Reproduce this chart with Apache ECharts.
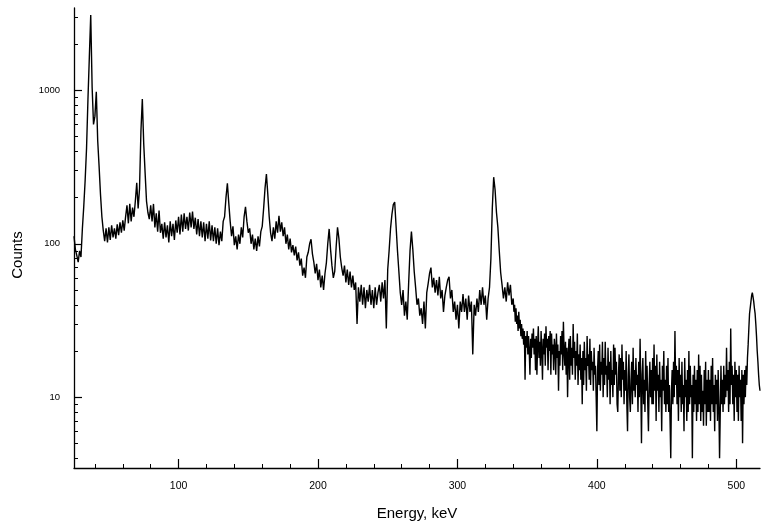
<!DOCTYPE html>
<html>
<head>
<meta charset="utf-8">
<script src="https://cdn.jsdelivr.net/npm/echarts@6/dist/echarts.min.js"></script>
<style>
html,body{margin:0;padding:0;background:#fff;}
#chart{width:761px;height:526px;}
</style>
</head>
<body>
<div id="chart"></div>
<script>
// Low-energy part: counts per 1 keV channel, 25 .. 339 keV
const lowStart = 25, lowStep = 1;
const counts25 = [112,92,84,76,90,82,125,175,260,420,870,1650,3100,1050,600,680,980,470,320,210,150,122,104,126,102,128,106,132,110,126,108,134,114,138,118,142,122,150,178,136,182,140,172,150,190,250,170,230,540,880];
const counts75 = [450,290,190,160,145,178,140,182,128,158,120,165,118,135,108,138,110,132,102,140,112,135,106,142,118,150,115,155,120,158,125,150,122,160,128,162,125,148,115,145,112,140,110,138,104,135,108,140,105,132];
const counts125 = [104,128,100,126,98,120,104,140,150,200,248,185,140,112,130,98,112,92,115,100,128,110,150,174,140,118,126,100,115,92,108,90,112,96,120,130,170,230,285,210,150,118,104,128,108,140,118,152,120,138];
const counts175 = [112,128,100,115,92,108,88,98,84,96,78,88,72,80,62,70,60,82,88,100,107,86,76,64,74,58,68,52,62,50,64,75,100,125,92,72,60,66,95,128,108,82,70,62,72,56,68,54,66,52];
const counts225 = [62,50,56,30,52,42,54,40,52,38,50,42,54,40,50,38,52,40,48,54,42,56,44,58,28,68,90,125,155,180,187,130,90,66,48,40,50,34,42,32,55,90,120,92,66,52,40,44,34,38];
const counts275 = [30,42,28,48,55,64,70,52,60,48,58,46,61,44,50,36,46,52,58,61,44,50,36,42,32,40,28,42,36,47,36,44,32,46,36,42,19,40,34,44,36,50,40,52,40,46,32,44,52,80];
const counts325 = [170,272,225,160,128,90,65,54,44,52,42,56,46,54,40];

// High-energy part: counts per 0.5 keV channel, 340 .. 517 keV
const highStart = 340, highStep = 0.5;
const counts340 = [44,36,40,31,38,30,34,27,36,28,32,25,30,24,28,22,27,13,25,21];
const counts350 = [27,19,25,20,14,24,18,26,21,28,19,24,15,25,14,22,29,18,23,16];
const counts360 = [27,20,13,24,19,26,16,29,21,24,15,25,20,27,14,26,19,22,15,24];
const counts370 = [21,14,26,18,22,11,20,16,25,19,27,15,31,20,16,23,14,21,10,19];
const counts380 = [24,13,25,16,21,14,30,18,23,13,20,16,26,12,19,15,22,13,18,9];
const counts390 = [20,12,23,15,18,11,25,16,19,13,24,12,20,15,17,11,21,14,16,10];
const counts400 = [6,15,20,12,22,11,17,14,23,10,18,12,23,14,16,10,21,13,17,9];
const counts410 = [20,12,15,10,22,12,21,14,17,9,8,14,19,11,18,10,22,13,17,9];
const counts420 = [15,11,20,9,6,14,19,10,8,13,17,9,21,11,15,10,18,12,14,8];
const counts430 = [17,10,24,12,5,14,18,9,13,8,20,11,16,9,6,12,17,10,15,9];
const counts440 = [18,9,22,11,16,7,19,11,14,8,17,10,13,6,16,11,20,9,13,8];
const counts450 = [16,9,18,8,12,7,4,11,15,9,17,10,27,12,16,9,15,7,18,10];
const counts460 = [14,8,17,9,12,6,18,10,13,7,15,8,20,9,16,10,12,4,14,8];
const counts470 = [16,9,13,7,15,8,19,9,16,7,14,8,11,6.5,15,9,17,6.5,13,8];
const counts480 = [15,8,13,7,16,9,18,8,12,6,14,9,13,7,15,9,4,8,16,9];
const counts490 = [13,8,16,9,14,10,21,11,15,8,17,9,28,12,16,9,14,7,17,10];
const counts500 = [15,8,14,7,16,10,13,7,15,5,14,9,15,10,16,12,18,22,28,35];
const counts510 = [36,42,46,48,45,42,38,35,30,25,20,17,14,12,11];

const xMajorTicks = [100,200,300,400,500];
const xMinorTicks = [40,60,80,120,140,160,180,220,240,260,280,320,340,360,380,420,440,460,480];
const yMajorTicks = [10,100,1000];
const yMinorTicks = [4,5,6,7,8,9,20,30,40,50,60,70,80,90,200,300,400,500,600,700,800,900,2000,3000];

const lowCounts = [].concat(counts25,counts75,counts125,counts175,counts225,counts275,counts325);
const highCounts = [].concat(counts340,counts350,counts360,counts370,counts380,counts390,counts400,counts410,counts420,counts430,counts440,counts450,counts460,counts470,counts480,counts490,counts500,counts510);
const seriesData = lowCounts.map((c,i)=>[lowStart + i*lowStep, c])
  .concat(highCounts.map((c,i)=>[highStart + i*highStep, c]));

const font = 'Liberation Sans, Arial, Helvetica, sans-serif';
const chart = echarts.init(document.getElementById('chart'), null, {renderer:'canvas'});
const xMin = 25, xMax = 517, yMin = 3.45, yMax = 3450;
const axisLine = {show:true, lineStyle:{color:'#000', width:1.3}};
chart.setOption({
  animation:false,
  backgroundColor:'#fff',
  grid:{left:74, right:1, top:8, bottom:57, containLabel:false},
  xAxis:[
    {type:'value', min:xMin, max:xMax, axisLine:axisLine,
     axisTick:{show:true, inside:true, length:9, customValues:xMajorTicks, lineStyle:{color:'#000', width:1.2}},
     axisLabel:{customValues:xMajorTicks, color:'#000', fontSize:10.5, fontFamily:font, margin:13},
     splitLine:{show:false},
     name:'Energy, keV', nameLocation:'middle', nameGap:38,
     nameTextStyle:{color:'#000', fontSize:15, fontFamily:font}},
    {type:'value', min:xMin, max:xMax, position:'bottom', axisLine:{show:false},
     axisTick:{show:true, inside:true, length:4, customValues:xMinorTicks, lineStyle:{color:'#000', width:1}},
     axisLabel:{show:false}, splitLine:{show:false}}
  ],
  yAxis:[
    {type:'log', logBase:10, min:yMin, max:yMax, axisLine:axisLine,
     axisTick:{show:true, inside:true, length:8, customValues:yMajorTicks, lineStyle:{color:'#000', width:1.2}},
     axisLabel:{customValues:yMajorTicks, color:'#000', fontSize:9.5, fontFamily:font, margin:14,
                formatter:function(v){return String(Math.round(v));}},
     splitLine:{show:false}, minorTick:{show:false}},
    {type:'log', logBase:10, min:yMin, max:yMax, position:'left', axisLine:{show:false},
     axisTick:{show:true, inside:true, length:4, customValues:yMinorTicks, lineStyle:{color:'#000', width:1}},
     axisLabel:{show:false}, splitLine:{show:false}}
  ],
  graphic:[{
    type:'text', x:18, y:255, rotation:Math.PI/2,
    style:{text:'Counts', fill:'#000', font:'15px ' + font, textAlign:'center', textVerticalAlign:'middle'}
  }],
  series:[{
    type:'line', xAxisIndex:0, yAxisIndex:0, data:seriesData,
    showSymbol:false, symbol:'none', sampling:null,
    lineStyle:{color:'#000', width:1.4}, z:3
  }]
});
</script>
</body>
</html>
